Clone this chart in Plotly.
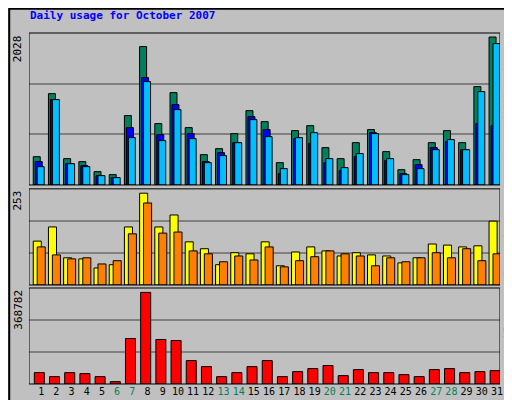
import plotly.graph_objects as go

days = list(range(1, 32))
hits = [388,1252,361,320,183,142,951,1897,841,1266,786,416,498,704,1019,868,306,745,813,512,361,580,759,457,210,347,580,745,580,1348,2028]
files = [320,1170,292,265,128,101,786,1472,690,1101,704,320,443,580,937,759,155,635,571,306,197,388,717,334,155,279,512,594,484,841,813]
pages = [251,1170,292,251,128,101,649,1417,608,1033,635,306,402,580,896,663,224,649,717,361,238,430,704,361,142,224,484,622,484,1280,1938]
visits = [121,160,75,72,47,56,160,253,160,193,119,100,56,89,86,119,53,91,105,94,80,89,83,80,61,75,113,110,105,108,176]
sites = [105,83,72,75,58,67,141,226,143,146,94,86,64,80,69,105,50,67,78,94,86,80,53,75,64,75,89,75,100,67,86]
kbytes = [45800,29600,45800,41800,29600,9400,183200,368782,179200,175100,94300,70000,29600,45800,70000,94300,29600,49800,62000,74100,33700,57900,45800,45800,37700,29600,57900,62000,45800,49800,53900]
weekend = {6,7,13,14,20,21,27,28}
tick_text = [f'<span style="color:#00805c">{d}</span>' if d in weekend else str(d) for d in days]

R1, R2, R3 = 2083, 265, 386500
fig = go.Figure()
def bar(y, color, off, w, ax):
    fig.add_trace(go.Bar(x=days, y=y, offset=off, width=w, marker=dict(color=color, line=dict(color='black', width=1)),
                         xaxis='x', yaxis=ax, showlegend=False))
bar(hits, '#00805c', -0.22, 0.46, 'y')
bar(files, '#0000ff', -0.09, 0.46, 'y')
bar(pages, '#00bfff', 0.04, 0.46, 'y')
bar(visits, '#ffff00', -0.22, 0.53, 'y2')
bar(sites, '#ff8000', 0.04, 0.53, 'y2')
bar(kbytes, '#ff0000', -0.15, 0.66, 'y3')

ya = dict(showticklabels=False, ticks='', gridcolor='#808080', gridwidth=1.5, zeroline=False)
fig.update_layout(
    width=512, height=400, margin=dict(l=21, r=20, t=25, b=24, autoexpand=False),
    paper_bgcolor='#c0c0c0', plot_bgcolor='#c0c0c0', barmode='overlay',
    font=dict(family='DejaVu Sans Mono', size=11, color='black'),
    xaxis=dict(range=[0.5, 31.5], tickvals=[d + 0.3 for d in days], ticktext=tick_text, ticks='', tickangle=0,
               showgrid=False, zeroline=False, anchor='y3', tickfont=dict(size=10)),
    yaxis=dict(domain=[0.567, 1], range=[0, R1], tickvals=[R1/3, 2*R1/3], **ya),
    yaxis2=dict(domain=[0.282, 0.556], range=[0, R2], tickvals=[R2/3, 2*R2/3], **ya),
    yaxis3=dict(domain=[0, 0.2735], range=[0, R3], tickvals=[R3/3, 2*R3/3], **ya),
)
shapes = []
for yr in ['y', 'y2', 'y3']:
    shapes.append(dict(type='rect', xref='x', yref=f'{yr} domain', x0=0.5, x1=31.5, y0=0, y1=1,
                       line=dict(color='black', width=1)))
shapes.append(dict(type='rect', xref='paper', yref='paper', x0=-0.042, x1=1.04, y0=-0.066, y1=1.069,
                   line=dict(color='black', width=2)))
fig.update_layout(shapes=shapes)
anns = [
    dict(text='<b>Daily usage for October 2007</b>', x=-0.002, y=1.025, xref='paper', yref='paper', xanchor='left',
         yanchor='bottom', showarrow=False, font=dict(color='#0000ff', size=11)),
    dict(text='2028', x=-0.006, y=1, xref='paper', yref='paper', xanchor='right', yanchor='top', textangle=-90, showarrow=False),
    dict(text='253', x=-0.006, y=0.556, xref='paper', yref='paper', xanchor='right', yanchor='top', textangle=-90, showarrow=False),
    dict(text='368782', x=-0.006, y=0.2735, xref='paper', yref='paper', xanchor='right', yanchor='top', textangle=-90, showarrow=False),
    dict(text='<span style="color:#00bfff">Pages</span> / <span style="color:#0000ff">Files</span> / <span style="color:#00805c">Hits</span>',
         x=1.003, y=0.99, xref='paper', yref='paper', xanchor='left', yanchor='top', textangle=-90, showarrow=False,
         font=dict(size=10)),
    dict(text='<span style="color:#ff8000">Sites</span> / <span style="color:#ffff00">Visits</span>',
         x=1.003, y=0.55, xref='paper', yref='paper', xanchor='left', yanchor='top', textangle=-90, showarrow=False,
         font=dict(size=10)),
    dict(text='<span style="color:#ff0000">KBytes</span>',
         x=1.003, y=0.24, xref='paper', yref='paper', xanchor='left', yanchor='top', textangle=-90, showarrow=False,
         font=dict(size=10)),
]
fig.update_layout(annotations=anns)
fig.write_html('out.html')
